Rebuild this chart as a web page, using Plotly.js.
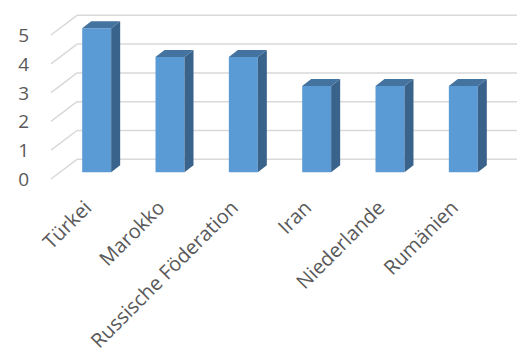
<!DOCTYPE html>
<html><head><meta charset="utf-8">
<script src="https://cdn.plot.ly/plotly-3.0.1.min.js"></script>
<style>html,body{margin:0;padding:0;background:#fff}#chart{width:528px;height:354px}</style>
</head><body><div id="chart"></div>
<script>
const categories = ["Türkei","Marokko","Russische Föderation","Iran","Niederlande","Rumänien"];
const values = [5,4,4,3,3,3];
const yTicks = [0,1,2,3,4,5];

// pseudo-3D geometry (in axis units)
const barW = 0.395;
const depthBar = {dx:0.123, dy:0.243};
const backOff = {dx:0.232, dy:0.451};
const frontOff = {dx:-0.123, dy:-0.233};
const FRONT='#5B9BD5', TOP='#44739F', SIDE='#3A638C';

const idx = categories.map((c,i)=>i);
const traces = [];
traces.push({type:'bar', x:idx, y:values, width:barW, marker:{color:FRONT, line:{width:0}}, hoverinfo:'x+y'});
values.forEach((v,i)=>{
  const xr = i+barW/2, xl = i-barW/2;
  traces.push({type:'scatter', mode:'lines', fill:'toself', fillcolor:SIDE, line:{width:0,color:SIDE},
    x:[xr, xr+depthBar.dx, xr+depthBar.dx, xr, xr], y:[0, depthBar.dy, v+depthBar.dy, v, 0], hoverinfo:'skip'});
  traces.push({type:'scatter', mode:'lines', fill:'toself', fillcolor:TOP, line:{width:0,color:TOP},
    x:[xl, xl+depthBar.dx, xr+depthBar.dx, xr, xl], y:[v, v+depthBar.dy, v+depthBar.dy, v, v], hoverinfo:'skip'});
});

const n = categories.length;
const shapes = [];
yTicks.forEach(t=>{
  shapes.push({type:'line', layer:'below', xref:'x', yref:'y', x0:-0.5+backOff.dx, x1:n-0.5+backOff.dx, y0:t+backOff.dy, y1:t+backOff.dy, line:{color:'#D9D9D9', width:1.5}});
  shapes.push({type:'line', layer:'below', xref:'x', yref:'y', x0:-0.5+frontOff.dx, x1:-0.5+backOff.dx, y0:t+frontOff.dy, y1:t+backOff.dy, line:{color:'#D9D9D9', width:1.5}});
});

const layout = {
  width:528, height:354, showlegend:false,
  margin:{l:40, r:0, t:0, b:172},
  paper_bgcolor:'#fff', plot_bgcolor:'rgba(0,0,0,0)',
  font:{family:'"Open Sans", sans-serif', size:18, color:'#595959'},
  xaxis:{range:[-0.7727,5.882], tickvals:idx, ticktext:categories, tickangle:-45, tickfont:{size:20}, showgrid:false, zeroline:false, showline:false, ticks:'', ticklabelshift:-11, ticklabelstandoff:9},
  yaxis:{range:[-0.3368,5.9826], tickvals:yTicks, tickfont:{size:19}, showgrid:false, zeroline:false, showline:false, ticks:'', ticklabelshift:7, ticklabelstandoff:10},
  shapes:shapes
};
Plotly.newPlot('chart', traces, layout, {displayModeBar:false, staticPlot:true});
</script></body></html>
